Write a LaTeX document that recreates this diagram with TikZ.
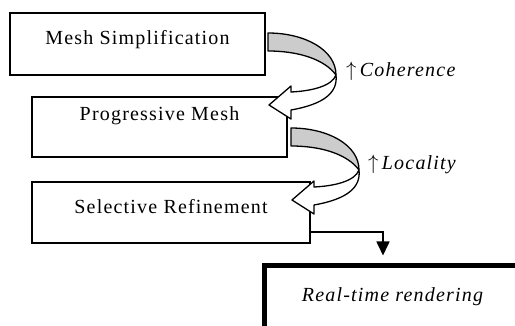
\documentclass[tikz,border=0pt]{standalone}
\usepackage{fontspec}
\setmainfont{Liberation Serif}[LetterSpace=6]
\usetikzlibrary{arrows.meta}

\begin{document}
\begin{tikzpicture}[x=1pt,y=-1pt,every node/.style={font=\fontsize{20}{24}\selectfont},
  stage/.style={draw,line width=1.5pt,inner sep=0pt,text height=14pt},
  ribbon/.style={draw,line width=1.3pt,line join=round}]
  \useasboundingbox (0,0) rectangle (515,326);
  \clip (0,0) rectangle (515,326);
  \newcommand{\twistarrow}[2]{%
    \begin{scope}[shift={(#1,#2)}]
      \draw[ribbon,fill=black!20] (0,0) .. controls (37,0) and (68,17) .. (68,42)
        .. controls (57,27) and (32,18) .. (0,18) -- cycle;
      \draw[ribbon,fill=white] (68,42) .. controls (64,53) and (44,58) .. (23,59)
        -- (23,53) -- (1,72) -- (23,86) -- (23,77)
        .. controls (57,71) and (70,59) .. (68,42) -- cycle;
    \end{scope}}
  \node[stage,minimum width=255pt,minimum height=62pt,text depth=12pt] (simp) at (137.5,44) {Mesh Simplification};
  \node[stage,minimum width=255pt,minimum height=60pt,text depth=26pt] (prog) at (159.5,127) {Progressive Mesh};
  \node[stage,minimum width=278pt,minimum height=61pt,text depth=11pt] (refine) at (171,212.5) {Selective Refinement};
  \node[stage,line width=5pt,minimum width=256pt,minimum height=80pt,text depth=21pt,
    font=\fontsize{20}{24}\selectfont\itshape] (render) at (392.5,305.5) {Real-time rendering};
  \twistarrow{268}{33}
  \twistarrow{291}{128}
  \node[anchor=base west,inner sep=0pt] (coh) at (346,77) {$\uparrow$\,\textit{Coherence}};
  \node[anchor=base west,inner sep=0pt] (loc) at (368,170) {$\uparrow$\,\textit{Locality}};
  \draw[line width=1.6pt,-{Triangle[length=14pt,width=13pt]}]
    ([yshift=12pt]refine.south east) -| ([xshift=-9.5pt,yshift=7.5pt]render.north);
\end{tikzpicture}
\end{document}
